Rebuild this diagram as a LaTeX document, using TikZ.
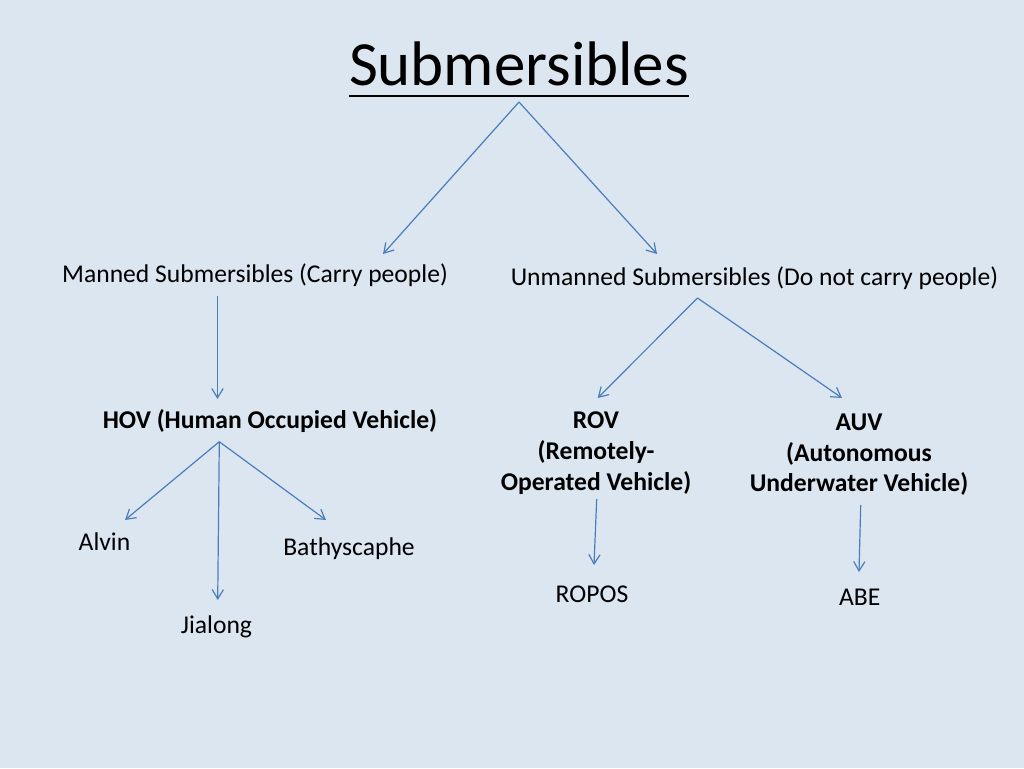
\documentclass[tikz,border=0pt]{standalone}
\usepackage{fontspec}
\setmainfont{Carlito}
\usetikzlibrary{arrows.meta,calc}
\definecolor{slidebg}{RGB}{220,230,241}
\definecolor{linkblue}{RGB}{74,126,187}

\begin{document}
\begin{tikzpicture}[
    x = 0.75pt, y = -0.75pt,
    label/.style={inner sep=0pt, anchor=base, font=\fontsize{19.2}{22.9}\selectfont},
    heading/.style={label, font=\fontsize{19.2}{22.9}\selectfont\bfseries, align=center},
    titletext/.style={inner sep=0pt, anchor=base, font=\fontsize{47.2}{56}\selectfont},
    arrow/.style={-{Straight Barb[length=7pt,width=8.5pt]}, line width=0.9pt, color=linkblue}
]
    % Background
    \fill[slidebg] (0, 0) rectangle (1024, 768);
    \useasboundingbox (0, 0) rectangle (1024, 768);

    % Title
    \node (title) at (519, 85) [titletext] {Submersibles};
    \draw[line width=2.2pt] ($(title.base west)+(0,11)$) -- ($(title.base east)+(0,11)$);

    % Manned / Unmanned
    \node (manned) at (255, 282) [label] {Manned Submersibles (Carry people)};
    \node (unmanned) at (754.5, 285) [label] {Unmanned Submersibles (Do not carry people)};

    % Vehicle types (base = last line)
    \node (hov) at (270, 428) [heading] {HOV (Human Occupied Vehicle)};
    \node (rov) at (596, 490) [heading] {ROV\\(Remotely-\\Operated Vehicle)};
    \node (auv) at (859, 491.7) [heading] {AUV\\(Autonomous\\Underwater Vehicle)};

    % Examples
    \node (alvin) at (104.5, 550) [label] {Alvin};
    \node (jialong) at (216.5, 633) [label] {Jialong};
    \node (bathyscaphe) at (349, 555) [label] {Bathyscaphe};
    \node (ropos) at (592, 602) [label] {ROPOS};
    \node (abe) at (859.7, 605) [label] {ABE};

    % Arrows
    \draw[arrow] ($(title.base)+(0,17)$) -- ($(manned.base)+(128,-28)$);
    \draw[arrow] ($(title.base)+(0,17)$) -- ($(unmanned.base)+(-97.5,-31)$);
    \draw[arrow] ($(manned.base)+(-37.5,14)$) -- ($(hov.base)+(-52.5,-29)$);
    \draw[arrow] ($(unmanned.base)+(-57,13)$) -- ($(rov.base)+(1.7,-92)$);
    \draw[arrow] ($(unmanned.base)+(-57,13)$) -- ($(auv.base)+(-17,-93.7)$);
    \draw[arrow] ($(hov.base)+(-50.7,13.7)$) -- ($(alvin.base)+(20.5,-30)$);
    \draw[arrow] ($(hov.base)+(-50.7,13.7)$) -- ($(jialong.base)+(1.2,-33)$);
    \draw[arrow] ($(hov.base)+(-50.7,13.7)$) -- ($(bathyscaphe.base)+(-23,-35)$);
    \draw[arrow] ($(rov.base)+(0.7,9)$) -- ($(ropos.base)+(2,-37)$);
    \draw[arrow] ($(auv.base)+(1.7,13.3)$) -- ($(abe.base)+(-0.7,-33)$);
\end{tikzpicture}
\end{document}
